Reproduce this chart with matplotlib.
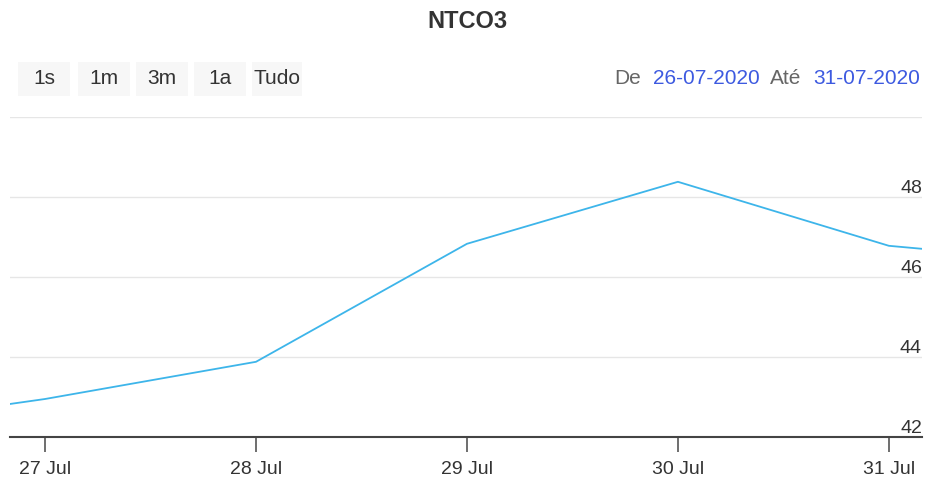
import matplotlib
matplotlib.use('Agg')
import matplotlib.pyplot as plt
import matplotlib.dates as mdates
from matplotlib.patches import Rectangle
import numpy as np

# data
dates = np.array(['2020-07-26', '2020-07-27', '2020-07-28', '2020-07-29',
                  '2020-07-30', '2020-07-31', '2020-08-01'], dtype='datetime64[D]')
prices = [42.2, 42.95, 43.88, 46.83, 48.38, 46.78, 46.3]
y_ticks = [42, 44, 46, 48, 50]
y_labels = ['42', '44', '46', '48', '']
x_ticks = np.array(['2020-07-27', '2020-07-28', '2020-07-29', '2020-07-30', '2020-07-31'],
                   dtype='datetime64[D]')
x_labels = ['27 Jul', '28 Jul', '29 Jul', '30 Jul', '31 Jul']
buttons = ['1s', '1m', '3m', '1a', 'Tudo']
date_from = '26-07-2020'
date_to = '31-07-2020'

plt.rcParams['font.family'] = ['Liberation Sans', 'DejaVu Sans']

W, H = 925, 484
fig = plt.figure(figsize=(W / 100, H / 100), dpi=100)
ax = fig.add_axes([10 / W, 47 / H, 912 / W, 320 / H])

xd = mdates.date2num(dates.astype('datetime64[s]').astype(object))
xt = mdates.date2num(x_ticks.astype('datetime64[s]').astype(object))
ax.plot(xd, prices, color='#3db5ea', lw=1.3, solid_joinstyle='round')

ax.set_xlim(xt[0] - 0.166, xt[-1] + 0.157)
ax.set_ylim(42, 50)

ax.set_yticks(y_ticks)
ax.yaxis.grid(True, color='#e6e6e6', lw=1)
ax.tick_params(axis='y', length=0, labelleft=False)
for v, lab in zip(y_ticks, y_labels):
    ax.text(1.0, v, lab, transform=ax.get_yaxis_transform(), ha='right', va='bottom',
            fontsize=14, color='#333333')

ax.set_xticks(xt)
ax.set_xticklabels(x_labels)
ax.tick_params(axis='x', length=11, width=1.2, color='#555555', labelsize=14,
               labelcolor='#333333', pad=6)

for s in ['top', 'left', 'right']:
    ax.spines[s].set_visible(False)
ax.spines['bottom'].set_color('#444444')
ax.spines['bottom'].set_linewidth(1.5)
ax.set_axisbelow(True)

fig.text(467 / W, 1 - 21 / H, 'NTCO3', ha='center', va='center', fontsize=17,
         fontweight='bold', color='#333333')

# range selector buttons
bx = [18, 78, 136, 194, 252]
for left, lab in zip(bx, buttons):
    w = 52 if lab != 'Tudo' else 50
    fig.patches.append(Rectangle((left / W, 1 - 96 / H), w / W, 34 / H,
                                 transform=fig.transFigure, facecolor='#f7f7f7',
                                 edgecolor='none'))
    fig.text((left + w / 2) / W, 1 - 79 / H, lab, ha='center', va='center',
             fontsize=15, color='#333333')

# date range inputs
fig.text(614 / W, 1 - 79 / H, 'De', ha='left', va='center', fontsize=15, color='#666666')
fig.text(653 / W, 1 - 79 / H, date_from, ha='left', va='center', fontsize=15, color='#3d5ae0')
fig.text(770 / W, 1 - 79 / H, 'Até', ha='left', va='center', fontsize=15, color='#666666')
fig.text(920 / W, 1 - 79 / H, date_to, ha='right', va='center', fontsize=15, color='#3d5ae0')

fig.savefig('out.png', dpi=100)
